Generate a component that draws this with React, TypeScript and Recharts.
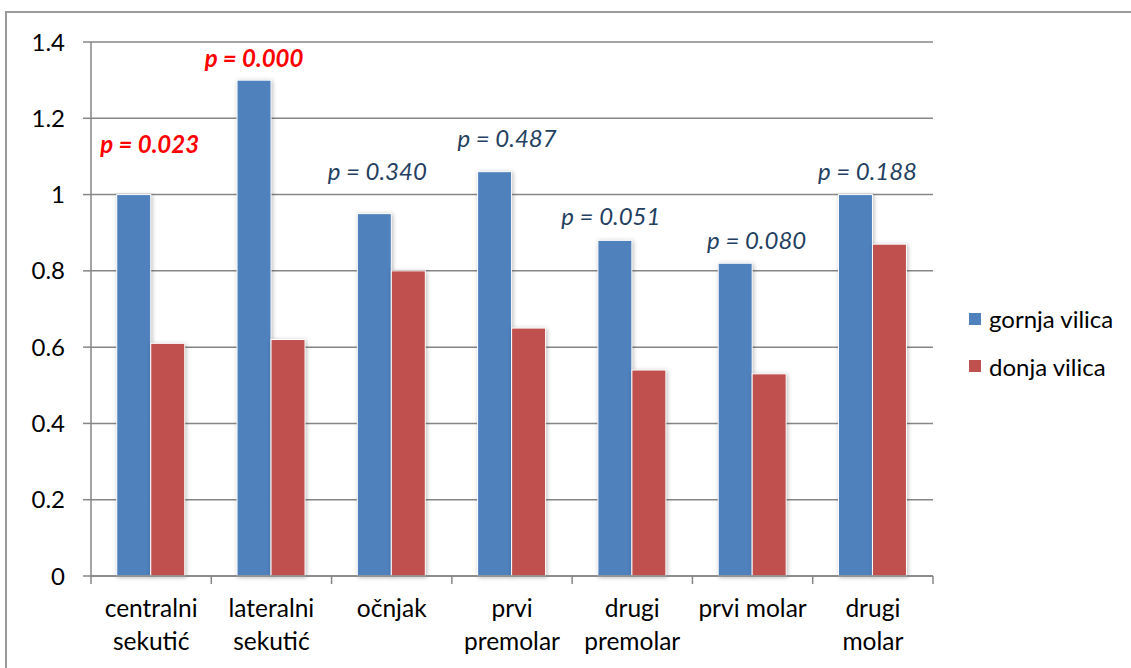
import React from 'react';
import { BarChart, Bar, XAxis, YAxis, CartesianGrid, LabelList } from 'recharts';

const categories = [
  'centralni\nsekutić',
  'lateralni\nsekutić',
  'očnjak',
  'prvi\npremolar',
  'drugi\npremolar',
  'prvi molar',
  'drugi\nmolar',
];
const gornjaVilica = [1.0, 1.3, 0.95, 1.06, 0.88, 0.82, 1.0];
const donjaVilica = [0.61, 0.62, 0.8, 0.65, 0.54, 0.53, 0.87];
const pValues = ['p = 0.023', 'p = 0.000', 'p = 0.340', 'p = 0.487', 'p = 0.051', 'p = 0.080', 'p = 0.188'];
const pSignificant = [true, true, false, false, false, false, false];
const pLabelLevel = [1.109, 1.335, 1.038, 1.125, 0.92, 0.857, 1.038];
const pLabelDx = [-1, -17, -14, -4.5, -21, 4.5, -5];
const yTicks = [0, 0.2, 0.4, 0.6, 0.8, 1, 1.2, 1.4];
const seriesNames = ['gornja vilica', 'donja vilica'];

const BLUE = '#4F81BD';
const RED = '#C0504D';
const GRID = '#868686';
const FONT = 'Lato, Carlito, Calibri, sans-serif';
const seriesColors = [BLUE, RED];

const data = categories.map((c, i) => ({
  category: c,
  gornja: gornjaVilica[i],
  donja: donjaVilica[i],
}));

const BarShape = (props: any) => {
  const { x, y, width, height, fill } = props;
  if (height == null || height <= 0) return null;
  return (
    <rect
      x={x}
      y={y}
      width={width}
      height={height}
      fill={fill}
      stroke="#ffffff"
      strokeWidth={1}
      style={{ filter: 'drop-shadow(1px 1px 2px rgba(0,0,0,0.28))' }}
    />
  );
};

const PLabel = (props: any) => {
  const vb = props.viewBox || props;
  const x = Number(vb.x ?? props.x);
  const y = Number(vb.y ?? props.y);
  const width = Number(vb.width ?? props.width);
  const height = Number(vb.height ?? props.height);
  const index = props.index;
  const value = Number(props.value);
  if (index == null || !isFinite(height) || !value) return null;
  const bottom = y + height;
  const pxPerUnit = height / value;
  const ly = bottom - pLabelLevel[index] * pxPerUnit;
  const cx = x + width + pLabelDx[index];
  const sig = pSignificant[index];
  return (
    <text
      x={cx}
      y={ly}
      textAnchor="middle"
      fontFamily={FONT}
      fontSize={24}
      fontStyle="italic"
      fontWeight={sig ? 700 : 400}
      fill={sig ? '#FF0000' : '#243F60'}
    >
      {pValues[index]}
    </text>
  );
};

const XTick = (props: any) => {
  const { x, y, payload, index } = props;
  const half = payload && payload.offset ? payload.offset : 60.15;
  const lines = String(payload.value).split('\n');
  return (
    <g>
      <line x1={x - half} x2={x - half} y1={y} y2={y + 8} stroke={GRID} strokeWidth={1.5} />
      {index === categories.length - 1 && (
        <line x1={x + half} x2={x + half} y1={y} y2={y + 8} stroke={GRID} strokeWidth={1.5} />
      )}
      <text x={x} y={y + 41} textAnchor="middle" fontFamily={FONT} fontSize={24.5} fill="#000">
        {lines.map((l, i) => (
          <tspan key={i} x={x} dy={i === 0 ? 0 : 33}>
            {l}
          </tspan>
        ))}
      </text>
    </g>
  );
};

export default function App() {
  return (
    <div style={{ position: 'absolute', left: 0, top: 0, width: 1131, height: 668, overflow: 'hidden' }}>
      <div
        style={{
          position: 'absolute',
          left: 5,
          top: 11,
          width: 1300,
          height: 800,
          border: '2px solid #9A9A9A',
          boxSizing: 'border-box',
        }}
      />
      <div style={{ position: 'absolute', left: 8, top: 8 }}>
        <BarChart
          width={1123}
          height={652}
          data={data}
          margin={{ top: 34, right: 198, left: 0, bottom: 0 }}
          barCategoryGap="21.4%"
          barGap={0}
        >
          <CartesianGrid vertical={false} stroke={GRID} strokeWidth={1.5} />
          <XAxis
            dataKey="category"
            height={84}
            interval={0}
            tickLine={false}
            tickSize={0}
            tickMargin={0}
            axisLine={{ stroke: GRID, strokeWidth: 1.5 }}
            tick={<XTick />}
          />
          <YAxis
            width={83}
            domain={[0, 1.4]}
            ticks={yTicks}
            interval={0}
            tickSize={8}
            tickMargin={18}
            axisLine={{ stroke: GRID, strokeWidth: 1.5 }}
            tickLine={{ stroke: GRID, strokeWidth: 1.5 }}
            tick={{ fill: '#000', fontFamily: FONT, fontSize: 24 }}
          />
          <Bar dataKey="gornja" name={seriesNames[0]} fill={BLUE} shape={<BarShape />} isAnimationActive={false}>
            <LabelList dataKey="gornja" content={<PLabel />} />
          </Bar>
          <Bar dataKey="donja" name={seriesNames[1]} fill={RED} shape={<BarShape />} isAnimationActive={false} />
        </BarChart>
      </div>
      <div style={{ position: 'absolute', left: 969, top: 295, fontFamily: FONT, fontSize: 24, color: '#000' }}>
        {seriesNames.map((n, i) => (
          <div key={n} style={{ display: 'flex', alignItems: 'center', height: 47.5, whiteSpace: 'nowrap' }}>
            <span style={{ display: 'inline-block', width: 12, height: 12, background: seriesColors[i], marginRight: 8 }} />
            <span>{n}</span>
          </div>
        ))}
      </div>
    </div>
  );
}
